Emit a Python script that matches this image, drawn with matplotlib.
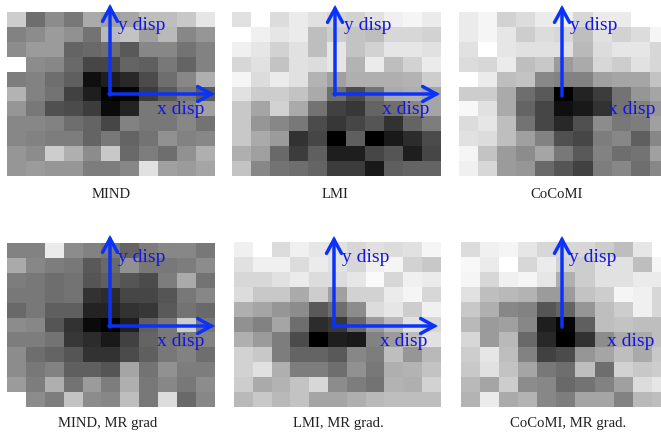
import numpy as np
import matplotlib
matplotlib.use('Agg')
import matplotlib.pyplot as plt

plt.rcParams['font.family'] = ['Liberation Serif', 'DejaVu Serif']

W, H = 661, 434

mind = [
    [205, 110, 140, 120, 170, 160, 165, 190, 190, 200, 230],
    [130, 140, 155, 145, 115, 185, 195, 160, 185, 135, 150],
    [140, 155, 155, 100, 105, 110, 90, 135, 135, 115, 130],
    [255, 140, 135, 105, 70, 70, 100, 95, 120, 100, 130],
    [125, 130, 110, 95, 15, 30, 40, 75, 110, 135, 175],
    [180, 130, 115, 65, 30, 0, 5, 60, 90, 120, 90],
    [150, 120, 80, 75, 60, 10, 35, 120, 120, 130, 160],
    [135, 135, 130, 110, 100, 70, 130, 120, 120, 135, 115],
    [135, 130, 125, 125, 100, 120, 100, 115, 145, 130, 135],
    [150, 140, 205, 175, 140, 200, 105, 125, 110, 145, 175],
    [150, 155, 150, 150, 125, 125, 135, 225, 160, 155, 165],
]
lmi = [
    [225, 255, 220, 235, 225, 215, 210, 225, 240, 245, 235],
    [255, 240, 230, 235, 190, 205, 195, 190, 215, 215, 210],
    [240, 230, 210, 225, 190, 230, 195, 210, 230, 230, 225],
    [215, 225, 195, 225, 220, 230, 180, 235, 190, 210, 235],
    [245, 220, 235, 225, 180, 160, 175, 175, 175, 180, 205],
    [225, 205, 205, 195, 170, 110, 75, 115, 170, 175, 165],
    [200, 165, 210, 170, 115, 65, 55, 100, 110, 135, 165],
    [200, 150, 135, 120, 75, 55, 70, 85, 50, 100, 125],
    [200, 170, 155, 50, 70, 0, 95, 0, 25, 45, 75],
    [175, 160, 105, 60, 95, 30, 30, 70, 85, 30, 70],
    [195, 135, 115, 110, 100, 60, 60, 25, 95, 100, 100],
]
cocomi = [
    [235, 245, 210, 220, 235, 240, 215, 235, 235, 255, 255],
    [235, 245, 230, 205, 220, 215, 190, 225, 210, 220, 245],
    [225, 255, 230, 225, 225, 225, 185, 220, 230, 230, 215],
    [220, 215, 235, 190, 200, 155, 170, 215, 205, 225, 215],
    [255, 235, 190, 195, 135, 130, 130, 160, 165, 165, 195],
    [205, 205, 170, 110, 90, 0, 35, 60, 115, 150, 165],
    [248, 225, 170, 100, 70, 15, 25, 50, 115, 130, 150],
    [220, 230, 190, 115, 70, 40, 80, 140, 120, 125, 160],
    [225, 220, 190, 160, 130, 80, 70, 125, 135, 95, 135],
    [245, 195, 155, 140, 165, 120, 90, 130, 110, 115, 160],
    [240, 215, 155, 150, 105, 85, 65, 125, 135, 110, 135],
]
mind_grad = [
    [130, 130, 235, 140, 130, 120, 100, 125, 135, 135, 120],
    [170, 135, 125, 120, 90, 105, 145, 120, 120, 125, 140],
    [125, 120, 110, 115, 85, 95, 85, 75, 125, 170, 115],
    [120, 120, 110, 115, 50, 45, 70, 70, 85, 120, 135],
    [105, 120, 95, 95, 35, 35, 50, 55, 90, 115, 105],
    [140, 135, 85, 50, 10, 0, 30, 95, 120, 205, 120],
    [125, 125, 115, 55, 45, 25, 65, 100, 120, 125, 130],
    [140, 110, 100, 85, 50, 50, 75, 95, 120, 130, 110],
    [140, 120, 130, 95, 95, 85, 165, 115, 145, 125, 125],
    [155, 125, 175, 115, 155, 125, 175, 120, 135, 120, 140],
    [255, 140, 125, 195, 140, 135, 190, 120, 220, 105, 135],
]
lmi_grad = [
    [240, 255, 220, 240, 230, 225, 215, 225, 220, 225, 245],
    [225, 240, 240, 220, 235, 225, 215, 240, 245, 210, 200],
    [215, 215, 225, 235, 220, 220, 230, 250, 215, 240, 235],
    [220, 200, 200, 170, 205, 160, 210, 210, 235, 245, 215],
    [175, 165, 150, 140, 90, 110, 140, 220, 230, 205, 240],
    [145, 130, 165, 110, 45, 55, 105, 155, 185, 225, 215],
    [175, 155, 125, 75, 0, 30, 25, 130, 155, 190, 225],
    [210, 200, 125, 100, 100, 90, 135, 125, 190, 150, 185],
    [210, 225, 175, 125, 125, 110, 145, 120, 175, 180, 195],
    [205, 170, 180, 195, 215, 140, 125, 115, 180, 175, 210],
    [185, 200, 185, 195, 165, 165, 175, 185, 190, 190, 190],
]
cocomi_grad = [
    [220, 240, 245, 230, 215, 215, 215, 205, 190, 230, 255],
    [248, 235, 255, 215, 235, 210, 205, 225, 225, 190, 245],
    [245, 215, 240, 245, 230, 175, 205, 225, 225, 235, 235],
    [225, 190, 185, 180, 155, 155, 195, 205, 245, 240, 215],
    [200, 175, 135, 130, 85, 100, 150, 190, 205, 240, 215],
    [185, 155, 160, 135, 30, 5, 95, 190, 195, 190, 190],
    [215, 155, 185, 105, 40, 0, 50, 140, 170, 170, 190],
    [205, 230, 190, 130, 65, 75, 150, 165, 190, 170, 200],
    [200, 225, 195, 165, 120, 110, 190, 110, 210, 200, 205],
    [185, 165, 205, 140, 135, 105, 115, 130, 160, 220, 230],
    [180, 235, 170, 180, 135, 125, 165, 165, 130, 185, 190],
]
titles = ['MIND', 'LMI', 'CoCoMI', 'MIND, MR grad', 'LMI, MR grad.', 'CoCoMI, MR grad.']
maps = [mind, lmi, cocomi, mind_grad, lmi_grad, cocomi_grad]

# pixel layout: image box (left, top, right, bottom), arrow origin, arrow ends,
# label positions, caption centre
boxes = [(7, 12, 215, 176), (232, 12, 440, 176), (459, 12, 668, 176),
         (7, 243, 215, 407), (234, 242, 440, 407), (461, 242, 670, 407)]
origins = [(110, 94), (335, 94), (562, 95), (110, 326), (334, 326), (562, 326)]
arrow_ends = [(4, 215), (5, 440), (5, 664), (235, 215), (236, 438), (236, 664)]
y_labels = [(118, 26), (344, 26), (570, 26), (118, 258), (342, 258), (569, 258)]
x_labels = [(157, 109), (382, 109), (608, 109), (157, 341), (380, 341), (607, 341)]
captions = [(111, 194), (335, 194), (557, 194), (108, 423), (338, 423), (568, 423)]

LINE_BLUE = '#0a32fa'
TEXT_BLUE = '#1414e6'

fig = plt.figure(figsize=(W / 100, H / 100), dpi=100)

for data, (l, t, r, b) in zip(maps, boxes):
    ax = fig.add_axes([l / W, 1 - b / H, (r - l) / W, (b - t) / H])
    ax.imshow(np.array(data), cmap='gray', vmin=0, vmax=255, aspect='auto',
              interpolation='nearest')
    ax.axis('off')

# overlay in pixel coordinates for arrows and labels
over = fig.add_axes([0, 0, 1, 1], facecolor='none')
over.set_xlim(0, W)
over.set_ylim(H, 0)
over.axis('off')

arrow_props = dict(arrowstyle='->,head_length=0.55,head_width=0.3', color=LINE_BLUE, lw=2.5,
                   mutation_scale=18, shrinkA=0, shrinkB=0, joinstyle='miter')

for i, title in enumerate(titles):
    ox, oy = origins[i]
    top, right = arrow_ends[i]
    over.annotate('', xy=(ox, top), xytext=(ox, oy + 1), arrowprops=arrow_props)
    over.annotate('', xy=(right, oy), xytext=(ox - 1, oy), arrowprops=arrow_props)
    over.text(y_labels[i][0], y_labels[i][1], 'y disp', color=TEXT_BLUE, fontsize=14,
              ha='left', va='center')
    over.text(x_labels[i][0], x_labels[i][1], 'x disp', color=TEXT_BLUE, fontsize=14,
              ha='left', va='center')
    over.text(captions[i][0], captions[i][1], title, color='#222222', fontsize=10.6,
              ha='center', va='center')

fig.savefig('out.png', dpi=100)
